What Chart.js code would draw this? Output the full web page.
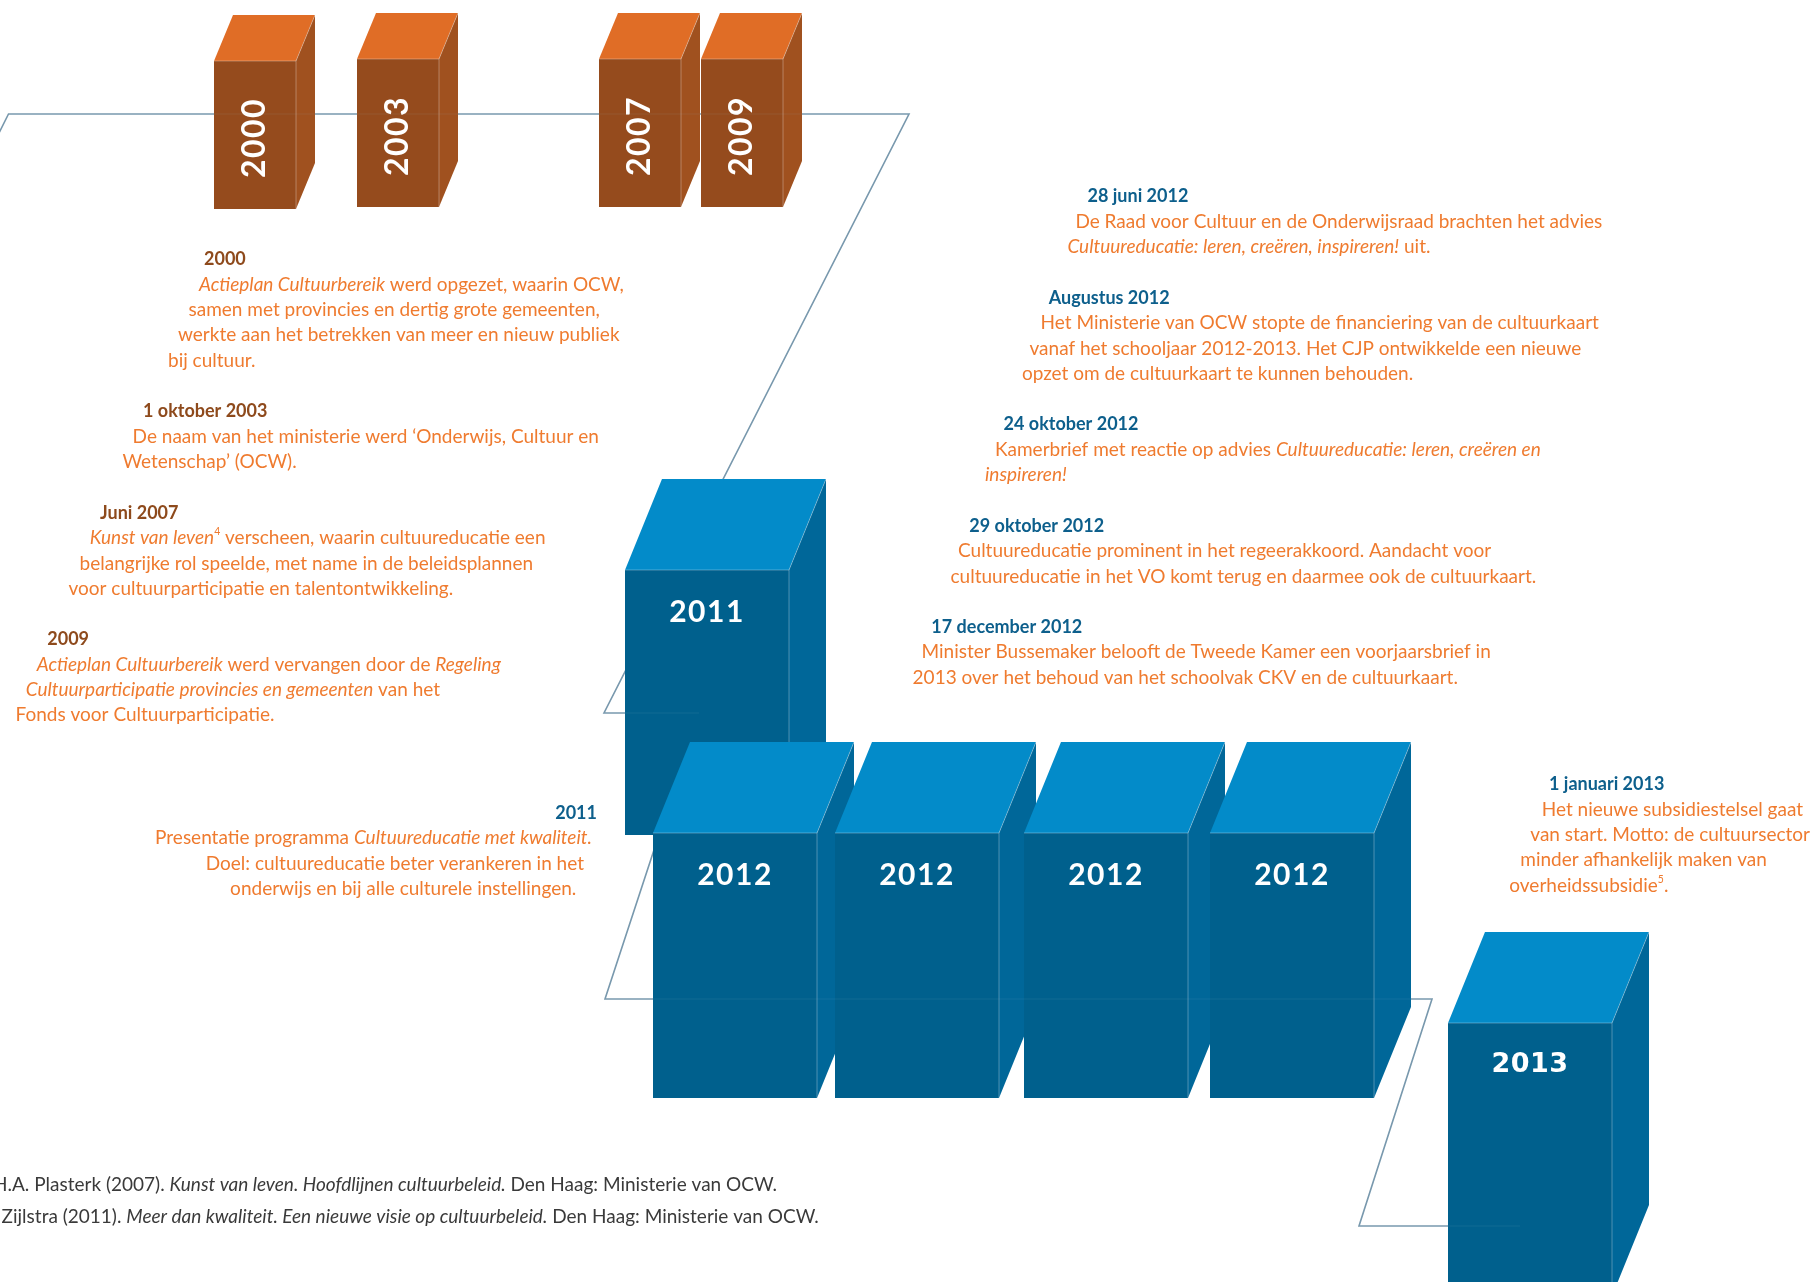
<!DOCTYPE html>
<html><head><meta charset="utf-8">
<script src="https://cdn.jsdelivr.net/npm/chart.js@4.4.1/dist/chart.umd.min.js"></script>
<style>html,body{margin:0;padding:0;background:#fff;overflow:hidden}canvas{display:block}</style>
</head><body>
<canvas id="c" width="1813" height="1282" style="width:1813px;height:1282px"></canvas>
<script>
// ================= DATA =================
const boxYears = ['2000','2003','2007','2009','2011','2012','2012','2012','2012','2013'];
const boxGroup = ['past','past','past','past','recent','recent','recent','recent','recent','recent'];

const pastDates = ['2000','1 oktober 2003','Juni 2007','2009'];
const pastTexts = [
  ['_Actieplan Cultuurbereik_ werd opgezet, waarin OCW,','samen met provincies en dertig grote gemeenten,','werkte aan het betrekken van meer en nieuw publiek','bij cultuur.'],
  ['De naam van het ministerie werd ‘Onderwijs, Cultuur en','Wetenschap’ (OCW).'],
  ['_Kunst van leven_^4 verscheen, waarin cultuureducatie een','belangrijke rol speelde, met name in de beleidsplannen','voor cultuurparticipatie en talentontwikkeling.'],
  ['_Actieplan Cultuurbereik_ werd vervangen door de _Regeling_','_Cultuurparticipatie provincies en gemeenten_ van het','Fonds voor Cultuurparticipatie.']
];
const date2011 = '2011';
const text2011 = ['Presentatie programma _Cultuureducatie met kwaliteit._','Doel: cultuureducatie beter verankeren in het','onderwijs en bij alle culturele instellingen.'];
const recentDates = ['28 juni 2012','Augustus 2012','24 oktober 2012','29 oktober 2012','17 december 2012'];
const recentTexts = [
  ['De Raad voor Cultuur en de Onderwijsraad brachten het advies','_Cultuureducatie: leren, creëren, inspireren!_ uit.'],
  ['Het Ministerie van OCW stopte de financiering van de cultuurkaart','vanaf het schooljaar 2012-2013. Het CJP ontwikkelde een nieuwe','opzet om de cultuurkaart te kunnen behouden.'],
  ['Kamerbrief met reactie op advies _Cultuureducatie: leren, creëren en_','_inspireren!_'],
  ['Cultuureducatie prominent in het regeerakkoord. Aandacht voor','cultuureducatie in het VO komt terug en daarmee ook de cultuurkaart.'],
  ['Minister Bussemaker belooft de Tweede Kamer een voorjaarsbrief in','2013 over het behoud van het schoolvak CKV en de cultuurkaart.']
];
const date2013 = '1 januari 2013';
const text2013 = ['Het nieuwe subsidiestelsel gaat','van start. Motto: de cultuursector','minder afhankelijk maken van','overheidssubsidie^5.'];
const footnotes = ['H.A. Plasterk (2007). _Kunst van leven. Hoofdlijnen cultuurbeleid._ Den Haag: Ministerie van OCW.',
                   'Zijlstra (2011). _Meer dan kwaliteit. Een nieuwe visie op cultuurbeleid._ Den Haag: Ministerie van OCW.'];

// ================= LAYOUT (page units) =================
const boxLeft   = [214, 357, 599, 701, 625, 653, 835, 1024, 1210, 1448];
const boxTop    = [61, 59, 59, 59, 570, 833, 833, 833, 833, 1023];
const boxBottom = [209, 207, 207, 207, 835, 1098, 1098, 1098, 1098, 1296];
const timelinePath = [[-12,155],[8.5,114],[909,114],[604,713],[699,713],[605,999],[1432,999],[1359,1226],[1520,1226]];

const pastRowX = [[204,199,188.5,178,168],[143,132.6,122.4],[100,89.8,79.6,68.5],[47.3,36.7,25.7,15.5]];
const pastRowY = [259,411,512.7,639];
const recentRowX = [[1087.5,1075.4,1067.4],[1048.7,1040.6,1029.5,1021.9],[1003.6,995,985],[969.3,958,950.5],[931.3,921.5,912.6]];
const recentRowY = [196,297.7,424,525.7,626.7];
const row2011Right = [597,592,584,576.3]; const row2011Y = 812.7;
const row2013X = [1549,1541.7,1530.3,1520.3,1509.3]; const row2013Y = 784;
const footX = [-7, 1.6]; const footY = [1185, 1216.5];
const LINE = 25.4;

const STY = {
  past:   {w:82, dx:19, dy:46, top:'#E06D26', front:'#954B1D', side:'#A0511F'},
  recent: {w:164, dx:37, dy:91, top:'#038BC9', front:'#00608D', side:'#006799'},
  orange:'#EF7B2F', brown:'#8E4A1C', blue:'#0D5F8C', foot:'#3a3a3a', line:'#7898AD'
};

// ================= DRAW HELPERS =================
function parseRuns(str){
  const runs=[]; let it=false, buf='';
  for(let i=0;i<str.length;i++){
    const ch=str[i];
    if(ch==='_'){ if(buf)runs.push({t:buf,it}); buf=''; it=!it; }
    else if(ch==='^'){ if(buf)runs.push({t:buf,it}); buf=''; runs.push({t:str[i+1],it,sup:true}); i++; }
    else buf+=ch;
  }
  if(buf)runs.push({t:buf,it});
  return runs;
}
function drawRich(ctx,str,x,y,o){
  const runs=parseRuns(str);
  const f=r=>`${r.it?'italic ':''}${o.weight||'normal'} ${r.sup?o.size*0.55:o.size}px ${o.family||'Lato'}`;
  ctx.letterSpacing=(o.ls||0)+'px';
  let tot=0; runs.forEach(r=>{ctx.font=f(r); r.w=ctx.measureText(r.t).width; tot+=r.w;});
  let cx=o.align==='right'?x-tot:x;
  ctx.fillStyle=o.color; ctx.textBaseline='middle'; ctx.textAlign='left';
  runs.forEach(r=>{ctx.font=f(r); ctx.fillText(r.t,cx,r.sup?y-o.size*0.33:y); cx+=r.w;});
  ctx.letterSpacing='0px';
}

const boxPlugin = {
  id:'boxes',
  afterDatasetsDraw(chart){
    const ctx=chart.ctx, xs=chart.scales.x, ys=chart.scales.y;
    const meta=chart.getDatasetMeta(1);
    const px=v=>xs.getPixelForValue(v), py=v=>ys.getPixelForValue(v);
    meta.data.forEach((el,i)=>{
      const s=STY[boxGroup[i]];
      const x0=el.x, y0=el.y;
      const x1=px(boxLeft[i]+s.w), y1=py(boxBottom[i]);
      const dX=px(boxLeft[i]+s.dx)-x0, dY=py(boxTop[i]-s.dy)-y0;
      ctx.save();
      ctx.fillStyle=s.front; ctx.fillRect(x0,y0,x1-x0,y1-y0);
      ctx.fillStyle=s.top; ctx.beginPath();
      ctx.moveTo(x0,y0); ctx.lineTo(x0+dX,y0+dY); ctx.lineTo(x1+dX,y0+dY); ctx.lineTo(x1,y0); ctx.closePath(); ctx.fill();
      ctx.fillStyle=s.side; ctx.beginPath();
      ctx.moveTo(x1,y0); ctx.lineTo(x1+dX,y0+dY); ctx.lineTo(x1+dX,y1+dY); ctx.lineTo(x1,y1); ctx.closePath(); ctx.fill();
      ctx.strokeStyle='rgba(255,255,255,0.3)'; ctx.lineWidth=1;
      ctx.beginPath(); ctx.moveTo(x0,y0); ctx.lineTo(x1,y0); ctx.lineTo(x1,y1); ctx.moveTo(x1,y0); ctx.lineTo(x1+dX,y0+dY); ctx.stroke();
      ctx.fillStyle='#fff'; ctx.textAlign='center'; ctx.textBaseline='middle';
      if(boxGroup[i]==='past'){
        ctx.translate((x0+x1)/2,(y0+y1)/2+3); ctx.rotate(-Math.PI/2);
        ctx.font='bold 32px Lato'; ctx.letterSpacing='1.5px';
        ctx.fillText(boxYears[i],0,0);
      } else {
        ctx.font= boxYears[i]==='2013' ? 'bold 27px "DejaVu Sans"' : 'bold 30px Lato';
        ctx.letterSpacing= boxYears[i]==='2013' ? '0.5px' : '1.5px';
        ctx.fillText(boxYears[i],(x0+x1)/2,y0+py(boxTop[i]+42)-py(boxTop[i]));
      }
      ctx.letterSpacing='0px';
      ctx.restore();
    });
    // faint seam of the horizontal timeline runs seen through the boxes
    const pm=chart.getDatasetMeta(0);
    ctx.save(); ctx.strokeStyle='rgba(170,200,220,0.10)'; ctx.lineWidth=1.2; ctx.beginPath();
    for(let k=1;k<pm.data.length;k++){
      const a=pm.data[k-1], b=pm.data[k];
      if(Math.abs(a.y-b.y)<0.5){ ctx.moveTo(a.x,a.y); ctx.lineTo(b.x,b.y); }
    }
    ctx.stroke(); ctx.restore();
  }
};

const textPlugin = {
  id:'texts',
  afterDraw(chart){
    const ctx=chart.ctx, xs=chart.scales.x, ys=chart.scales.y;
    const px=v=>xs.getPixelForValue(v), py=v=>ys.getPixelForValue(v);
    ctx.save();
    pastDates.forEach((d,b)=>{
      const X=pastRowX[b], Y=pastRowY[b];
      drawRich(ctx,d,px(X[0]),py(Y),{size:18,weight:'bold',color:STY.brown});
      pastTexts[b].forEach((t,j)=>drawRich(ctx,t,px(X[j+1]),py(Y+LINE*(j+1)),{size:19,color:STY.orange}));
    });
    drawRich(ctx,date2011,px(row2011Right[0]),py(row2011Y),{size:18,weight:'bold',color:STY.blue,align:'right'});
    text2011.forEach((t,j)=>drawRich(ctx,t,px(row2011Right[j+1]),py(row2011Y+LINE*(j+1)),{size:19,color:STY.orange,align:'right'}));
    recentDates.forEach((d,b)=>{
      const X=recentRowX[b], Y=recentRowY[b];
      drawRich(ctx,d,px(X[0]),py(Y),{size:18,weight:'bold',color:STY.blue});
      recentTexts[b].forEach((t,j)=>drawRich(ctx,t,px(X[j+1]),py(Y+LINE*(j+1)),{size:19,color:STY.orange}));
    });
    drawRich(ctx,date2013,px(row2013X[0]),py(row2013Y),{size:18,weight:'bold',color:STY.blue});
    text2013.forEach((t,j)=>drawRich(ctx,t,px(row2013X[j+1]),py(row2013Y+LINE*(j+1)),{size:19,color:STY.orange}));
    footnotes.forEach((t,j)=>drawRich(ctx,t,px(footX[j]),py(footY[j]),{size:19,color:STY.foot}));
    ctx.restore();
  }
};

function build(){
  new Chart(document.getElementById('c'),{
    type:'scatter',
    data:{datasets:[
      {label:'timeline',data:timelinePath.map(p=>({x:p[0],y:p[1]})),showLine:true,borderColor:STY.line,borderWidth:1.6,pointRadius:0,fill:false,tension:0},
      {label:'years',data:boxLeft.map((x,i)=>({x,y:boxTop[i]})),pointRadius:0,pointHoverRadius:0}
    ]},
    options:{
      responsive:false,animation:false,devicePixelRatio:1,events:[],
      layout:{padding:0},
      plugins:{legend:{display:false},tooltip:{enabled:false},title:{display:false}},
      scales:{
        x:{type:'linear',min:0,max:1813,display:false},
        y:{type:'linear',min:0,max:1282,reverse:true,display:false}
      }
    },
    plugins:[boxPlugin,textPlugin]
  });
}
if(document.fonts&&document.fonts.load){
  Promise.all(['18px Lato','bold 18px Lato','italic 18px Lato','bold 27px "DejaVu Sans"'].map(f=>document.fonts.load(f))).then(build,build);
} else build();
</script>
</body></html>
